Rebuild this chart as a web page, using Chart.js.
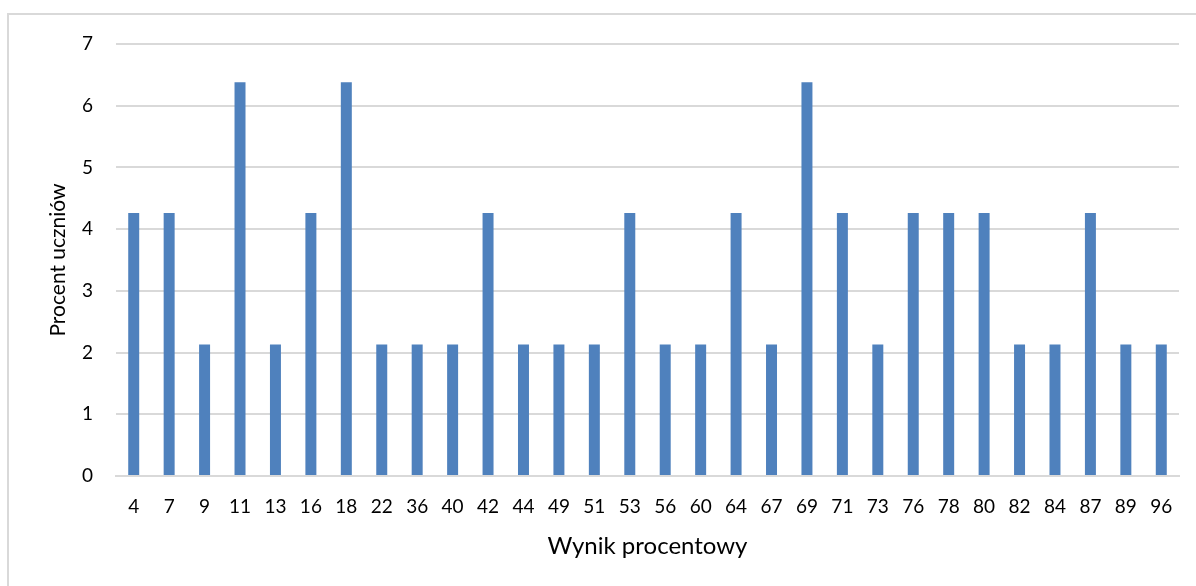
<!DOCTYPE html>
<html>
<head>
<meta charset="utf-8">
<script src="https://cdn.jsdelivr.net/npm/chart.js@4/dist/chart.umd.min.js"></script>
<style>
  html, body { margin: 0; padding: 0; background: #fff; }
  #wrap { position: relative; width: 1196px; height: 586px; overflow: hidden; }
  #frame { position: absolute; left: 7px; top: 13px; width: 1200px; height: 600px; border: 2px solid #d9d9d9; }
  #myViz { position: absolute; left: 0; top: 0; }
</style>
</head>
<body>
<div id="wrap">
  <div id="frame"></div>
  <canvas id="myViz" width="1196" height="586"></canvas>
</div>
<script>
// Wynik procentowy (oś X)
const categories = ['4', '7', '9', '11', '13', '16', '18', '22', '36', '40', '42', '44', '49', '51', '53',
  '56', '60', '64', '67', '69', '71', '73', '76', '78', '80', '82', '84', '87', '89', '96'];

// Procent uczniów
const percentValues = [4.26, 4.26, 2.13, 6.38, 2.13, 4.26, 6.38, 2.13, 2.13, 2.13, 4.26, 2.13, 2.13, 2.13, 4.26,
  2.13, 2.13, 4.26, 2.13, 6.38, 4.26, 2.13, 4.26, 4.26, 4.26, 2.13, 2.13, 4.26, 2.13, 2.13];

const yTicks = [0, 1, 2, 3, 4, 5, 6, 7];

const FONT = 'Lato, Carlito, Calibri, sans-serif';
const ctx = document.getElementById('myViz').getContext('2d');

new Chart(ctx, {
  type: 'bar',
  data: {
    labels: categories,
    datasets: [{
      data: percentValues,
      backgroundColor: '#4f81bd',
      borderWidth: 0,
      barPercentage: 0.31,
      categoryPercentage: 1
    }]
  },
  options: {
    responsive: false,
    animation: false,
    layout: { padding: { left: 0, right: 17, top: 44, bottom: 0 } },
    plugins: { legend: { display: false }, tooltip: { enabled: false } },
    scales: {
      x: {
        grid: { display: false, drawTicks: false },
        border: { color: '#d9d9d9', width: 2 },
        ticks: { color: '#000', font: { family: FONT, size: 19 }, padding: 19, maxRotation: 0, autoSkip: false },
        title: { display: true, text: 'Wynik procentowy', color: '#000', font: { family: FONT, size: 24 }, padding: { top: 0, bottom: 25 } },
        afterFit: (s) => { s.height = 110; }
      },
      y: {
        min: 0,
        max: 7,
        afterBuildTicks: (s) => { s.ticks = yTicks.map(v => ({ value: v })); },
        grid: { color: '#d9d9d9', lineWidth: 2, drawTicks: false },
        border: { display: false },
        ticks: { color: '#000', font: { family: FONT, size: 19 }, padding: 23 },
        title: { display: true, text: 'Procent uczniów', color: '#000', font: { family: FONT, size: 21 }, padding: { top: 46, bottom: 0 } },
        afterFit: (s) => { s.width = 116; }
      }
    }
  }
});
</script>
</body>
</html>
